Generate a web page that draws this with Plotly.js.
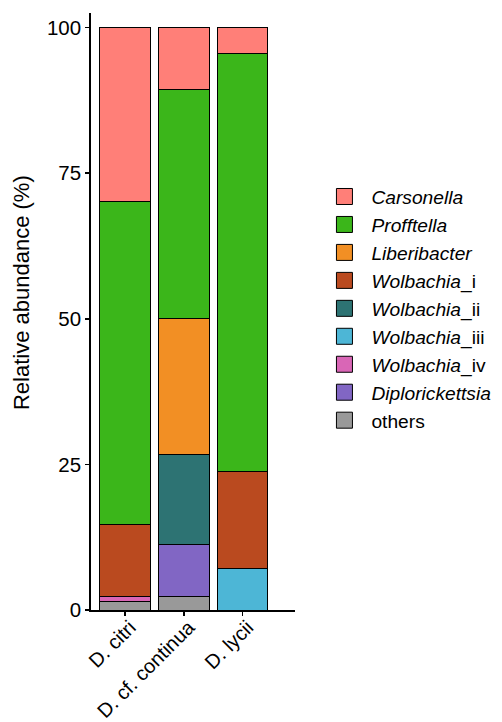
<!DOCTYPE html>
<html>
<head>
<meta charset="utf-8">
<script src="https://cdn.plot.ly/plotly-3.0.1.min.js"></script>
<style>html,body{margin:0;padding:0;background:#fff;}#chart{width:502px;height:722px;}</style>
</head>
<body>
<div id="chart"></div>
<script>
// Categories (x axis)
var samples = ["D. citri", "D. cf. continua", "D. lycii"];

// Taxa, bottom of stack first
var taxa = ["others", "Diplorickettsia", "Wolbachia_iv", "Wolbachia_iii", "Wolbachia_ii", "Wolbachia_i", "Liberibacter", "Profftella", "Carsonella"];
var taxaLabels = ["others", "<i>Diplorickettsia</i>", "<i>Wolbachia</i>_iv", "<i>Wolbachia</i>_iii", "<i>Wolbachia</i>_ii", "<i>Wolbachia</i>_i", "<i>Liberibacter</i>", "<i>Profftella</i>", "<i>Carsonella</i>"];
var taxaColors = ["#999999", "#8166C4", "#D966B6", "#4DB6D6", "#2D7373", "#BA4A1F", "#F28F24", "#3BB61A", "#FF7F78"];

// Relative abundance (%) per taxon, for [D. citri, D. cf. continua, D. lycii]
var others          = [1.5, 2.3, 0.0];
var diplorickettsia = [0.0, 8.9, 0.0];
var wolbachia_iv    = [0.9, 0.0, 0.0];
var wolbachia_iii   = [0.0, 0.0, 7.1];
var wolbachia_ii    = [0.0, 15.5, 0.0];
var wolbachia_i     = [12.3, 0.0, 16.7];
var liberibacter    = [0.0, 23.3, 0.0];
var profftella      = [55.5, 39.4, 71.8];
var carsonella      = [29.8, 10.6, 4.4];

var yTicks = [0, 25, 50, 75, 100];
var yTitle = "Relative abundance (%)";

var values = [others, diplorickettsia, wolbachia_iv, wolbachia_iii, wolbachia_ii, wolbachia_i, liberibacter, profftella, carsonella];

var traces = taxa.map(function (t, i) {
  return {
    type: "bar",
    name: taxaLabels[i],
    x: samples,
    y: values[i],
    marker: {color: taxaColors[i], line: {color: "#000000", width: 1}},
    showlegend: false
  };
});

// legend keys (larger square keys, no data drawn)
taxa.forEach(function (t, i) {
  traces.push({
    type: "scatter",
    mode: "markers",
    name: taxaLabels[i],
    x: [null],
    y: [null],
    marker: {symbol: "square", size: 16, color: taxaColors[i], line: {color: "#000000", width: 1}},
    showlegend: true
  });
});

var font = "Liberation Sans, Arial, sans-serif";

var layout = {
  width: 502,
  height: 722,
  margin: {l: 91, r: 207, t: 13, b: 111.5, pad: 0, autoexpand: false},
  paper_bgcolor: "#ffffff",
  plot_bgcolor: "#ffffff",
  barmode: "stack",
  bargap: 0.14,
  font: {family: font, size: 20, color: "#000000"},
  showlegend: true,
  legend: {
    traceorder: "reversed",
    x: 1.11, xanchor: "left",
    y: 0.505, yanchor: "middle",
    font: {family: font, size: 19.2, color: "#000000"},
    itemwidth: 44,
    bgcolor: "rgba(0,0,0,0)"
  },
  xaxis: {
    type: "category",
    range: [-0.58, 2.89],
    tickangle: -45,
    ticks: "outside",
    ticklen: 4,
    tickwidth: 1.5,
    tickcolor: "#000000",
    showline: true,
    linecolor: "#000000",
    linewidth: 1.8,
    showgrid: false,
    zeroline: false,
    ticklabelshift: 5,
    ticklabelstandoff: -8,
    tickfont: {family: font, size: 20, color: "#000000"}
  },
  yaxis: {
    range: [0, 102.5],
    tickmode: "array",
    tickvals: yTicks,
    ticks: "outside",
    ticklen: 4,
    tickwidth: 1.5,
    tickcolor: "#000000",
    showline: true,
    linecolor: "#000000",
    linewidth: 1.8,
    showgrid: false,
    zeroline: false,
    tickfont: {family: font, size: 20.5, color: "#000000"}
  },
  annotations: [{
    text: yTitle,
    xref: "paper", yref: "paper",
    x: -0.338, y: 0.531,
    xanchor: "center", yanchor: "middle",
    textangle: -90,
    showarrow: false,
    font: {family: font, size: 22, color: "#000000"}
  }]
};

Plotly.newPlot("chart", traces, layout, {displayModeBar: false, staticPlot: true});
</script>
</body>
</html>
